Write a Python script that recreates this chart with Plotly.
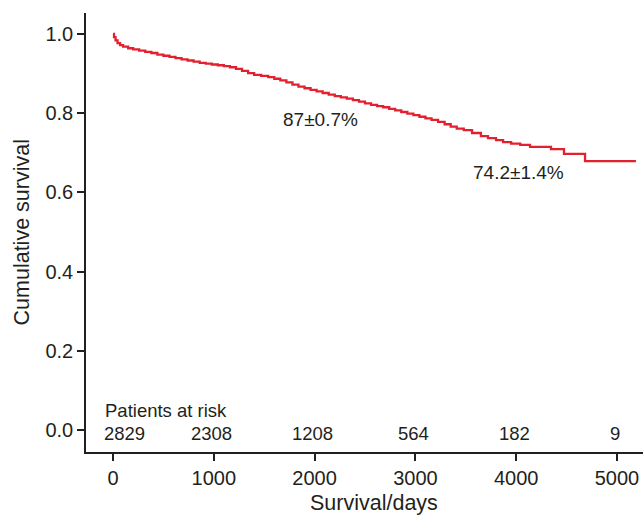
import plotly.graph_objects as go

# Kaplan-Meier curve (days, cumulative survival)
days = [0, 10, 25, 45, 70, 100, 150, 200, 260, 320, 380, 440, 500, 560, 620, 680,
        740, 800, 860, 920, 980, 1040, 1100, 1160, 1220, 1280, 1340, 1400, 1470,
        1540, 1600, 1660, 1720, 1780, 1840, 1900, 1960, 2020, 2080, 2140, 2200,
        2260, 2320, 2380, 2440, 2500, 2560, 2620, 2680, 2740, 2800, 2860, 2920,
        2980, 3040, 3100, 3160, 3225, 3290, 3350, 3410, 3480, 3562, 3650, 3720,
        3800, 3870, 3950, 4040, 4137, 4345, 4474, 4683, 5188]
surv = [1.0, 0.992, 0.984, 0.977, 0.972, 0.968, 0.964, 0.961, 0.958, 0.955, 0.952,
        0.948, 0.945, 0.942, 0.939, 0.936, 0.933, 0.930, 0.927, 0.925, 0.923,
        0.921, 0.919, 0.916, 0.912, 0.907, 0.901, 0.897, 0.894, 0.891, 0.887,
        0.883, 0.878, 0.872, 0.867, 0.863, 0.859, 0.855, 0.851, 0.847, 0.843,
        0.840, 0.837, 0.833, 0.829, 0.825, 0.821, 0.818, 0.815, 0.811, 0.807,
        0.803, 0.799, 0.795, 0.791, 0.787, 0.783, 0.778, 0.772, 0.766, 0.761,
        0.757, 0.750, 0.742, 0.737, 0.732, 0.727, 0.723, 0.720, 0.715, 0.709,
        0.697, 0.679, 0.679]

risk_days = [0, 1000, 2000, 3000, 4000, 5000]
risk_counts = ["2829", "2308", "1208", "564", "182", "9"]

x_ticks = [0, 1000, 2000, 3000, 4000, 5000]
y_ticks = [0.0, 0.2, 0.4, 0.6, 0.8, 1.0]

FONT = "Liberation Sans, Arial, Helvetica, sans-serif"
TXT = "#231f20"
RED = "#e2202e"

fig = go.Figure()
fig.add_trace(go.Scatter(x=days, y=surv, mode="lines",
                         line=dict(color=RED, width=2.3, shape="hv"),
                         showlegend=False, hoverinfo="skip"))

annotations = [
    dict(x=2054, y=0.783, text="87±0.7%", showarrow=False, xanchor="center", yanchor="middle",
         font=dict(size=19, color=TXT, family=FONT)),
    dict(x=4018, y=0.649, text="74.2±1.4%", showarrow=False, xanchor="center", yanchor="middle",
         font=dict(size=19, color=TXT, family=FONT)),
    dict(x=-99, y=0.05, text="Patients at risk", showarrow=False, xanchor="left", yanchor="middle",
         font=dict(size=18.5, color=TXT, family=FONT)),
    # axis titles
    dict(x=2589, xref="x", y=-0.116, yref="paper", text="Survival/days", showarrow=False,
         xanchor="center", yanchor="middle", font=dict(size=21.5, color=TXT, family=FONT)),
    dict(x=-0.115, xref="paper", y=0.5, yref="paper", text="Cumulative survival", showarrow=False,
         textangle=-90, xanchor="center", yanchor="middle", font=dict(size=21.5, color=TXT, family=FONT)),
]
for d, c in zip(risk_days, risk_counts):
    annotations.append(dict(x=d, y=-0.008, text=c, showarrow=False,
                            xanchor="center", yanchor="middle",
                            xshift=11 if d == 0 else -2,
                            font=dict(size=18.5, color=TXT, family=FONT)))

fig.update_layout(
    width=643, height=515,
    margin=dict(l=86, r=0, t=13, b=63),
    paper_bgcolor="white", plot_bgcolor="white",
    font=dict(family=FONT, color=TXT, size=18),
    annotations=annotations,
    xaxis=dict(range=[-268, 5258], tickvals=x_ticks, ticktext=[str(v) for v in x_ticks],
               showgrid=False, zeroline=False, showline=True, linecolor="#231f20", linewidth=1.5,
               ticks="outside", ticklen=7, tickwidth=1.5, tickcolor="#231f20",
               tickfont=dict(size=20, family=FONT, color=TXT)),
    yaxis=dict(range=[-0.0556, 1.053], tickvals=y_ticks, ticktext=[f"{v:.1f}" for v in y_ticks],
               showgrid=False, zeroline=False, showline=True, linecolor="#231f20", linewidth=1.5,
               ticks="outside", ticklen=7, tickwidth=1.5, tickcolor="#231f20",
               tickfont=dict(size=20, family=FONT, color=TXT)),
)

fig.write_html("out.html",
               config={"displayModeBar": False},
               post_script="document.body.style.margin='0px'; document.body.style.overflow='hidden';")
